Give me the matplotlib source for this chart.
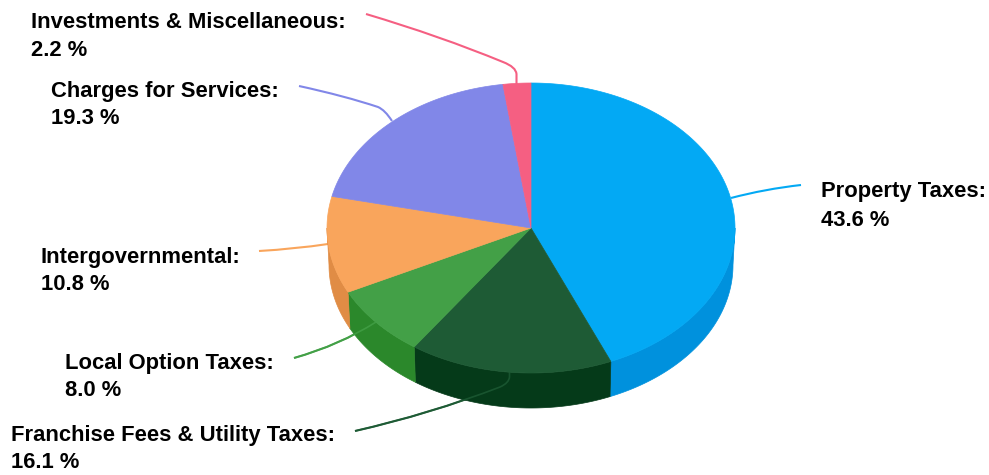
"""
Revenue sources as a tilted pie with a solid rim and curved leader lines.
"""
import numpy as np
import matplotlib
matplotlib.use("Agg")
import matplotlib.pyplot as plt
from matplotlib.patches import PathPatch, Polygon
from matplotlib.path import Path

plt.rcParams["font.family"] = ["Liberation Sans", "DejaVu Sans"]

categories = ["Property Taxes", "Franchise Fees & Utility Taxes", "Local Option Taxes",
              "Intergovernmental", "Charges for Services", "Investments & Miscellaneous"]
shares = [43.6, 16.1, 8.0, 10.8, 19.3, 2.2]
top_colors = ["#03A9F4", "#1E5B35", "#43A047", "#F9A55C", "#8187E8", "#F55F82"]
rim_colors = ["#0091DD", "#053A19", "#2B882B", "#E08C45", "#8187E8", "#F55F82"]

# where each label starts, in pixels
label_x = [821, 11, 65, 41, 51, 31]
label_y = [192, 435, 363, 257, 91, 22]

M, C, L = Path.MOVETO, Path.CURVE3, Path.LINETO

# leader curves: start at the label, bend once, end at the pie
leaders = [
    ([(801, 185), (765, 189), (731, 198)], [M, C, C]),
    ([(355, 431), (430, 414), (500, 387), (509, 383), (509.5, 377), (509.5, 372)], [M, C, C, C, C, L]),
    ([(294, 358), (340, 345), (376, 322)], [M, C, C]),
    ([(259, 251), (295, 249), (328, 244)], [M, C, C]),
    ([(299, 86), (345, 96), (378, 107), (385, 110), (392, 121)], [M, C, C, C, C]),
    ([(366, 14), (440, 36), (503, 62), (516, 67), (516.5, 74), (516.5, 84)], [M, C, C, C, C, L]),
]

cx, cy, rx, ry = 531, 228, 204, 145
bx, by, brx, bry = 531, 265, 202, 143

def arc(x0, y0, a, b, start, stop):
    # angles in degrees, clockwise from twelve o'clock
    t = np.radians(np.linspace(start, stop, 200))
    return np.column_stack([x0 + a * np.sin(t), y0 - b * np.cos(t)])

fig = plt.figure(figsize=(9.89, 4.75), dpi=100)
ax = fig.add_axes([0, 0, 1, 1])
ax.set_xlim(0, 989)
ax.set_ylim(475, 0)
ax.axis("off")

edges = np.cumsum([0] + shares) / sum(shares) * 360

# rim first, only the front half of the pie shows it
for i in range(len(shares)):
    start = max(edges[i], 90)
    stop = min(edges[i + 1], 270)
    if stop > start:
        pts = np.vstack([arc(cx, cy, rx, ry, start, stop), arc(bx, by, brx, bry, stop, start)])
        ax.add_patch(Polygon(pts, closed=True, fc=rim_colors[i], ec=rim_colors[i], lw=0.5, zorder=2))

for i in range(len(shares)):
    pts = np.vstack([[(cx, cy)], arc(cx, cy, rx, ry, edges[i], edges[i + 1])])
    ax.add_patch(Polygon(pts, closed=True, fc=top_colors[i], ec=top_colors[i], lw=0.5, zorder=3))

for i, (pts, codes) in enumerate(leaders):
    ax.add_patch(PathPatch(Path(pts, codes), fc="none", ec=top_colors[i], lw=1.5, zorder=1))
    # the two lower leaders stay faintly visible across the rim
    if i in (1, 2):
        ax.add_patch(PathPatch(Path(pts, codes), fc="none", ec=top_colors[i], lw=1.2, alpha=0.8, zorder=4))

for i, name in enumerate(categories):
    ax.text(label_x[i], label_y[i], name + ":", fontsize=15.8, fontweight="bold",
            color="#000000", va="center", ha="left", zorder=5)
    ax.text(label_x[i], label_y[i] + 28, "%.1f %%" % shares[i], fontsize=15.8, fontweight="bold",
            color="#000000", va="center", ha="left", zorder=5)

fig.savefig("out.png", dpi=100)
